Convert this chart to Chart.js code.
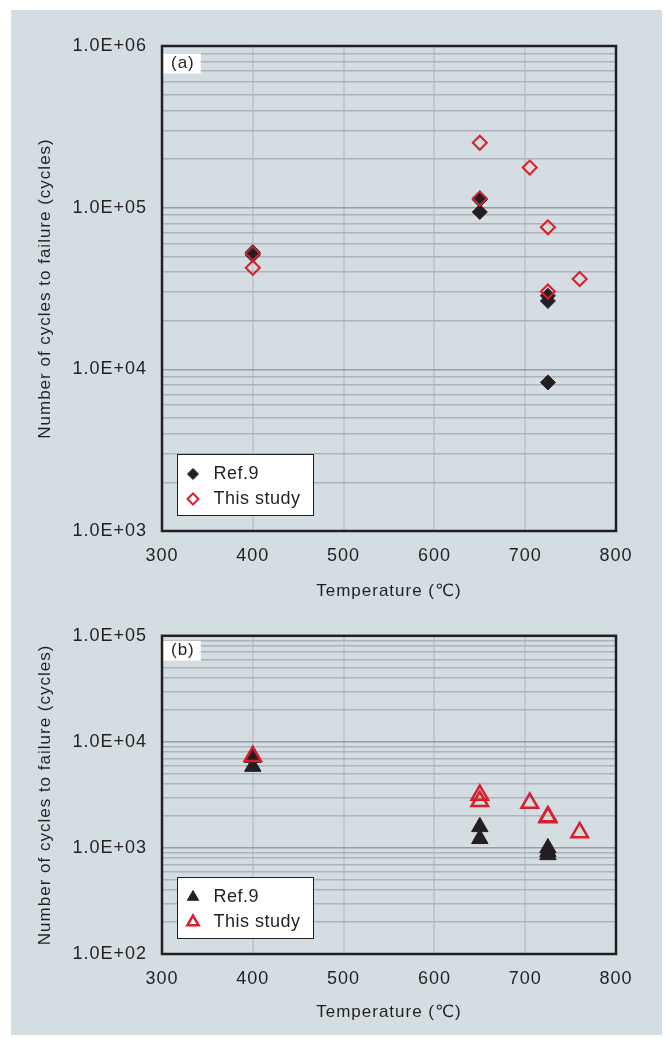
<!DOCTYPE html>
<html>
<head>
<meta charset="utf-8">
<script src="https://cdn.jsdelivr.net/npm/chart.js@4.4.1/dist/chart.umd.min.js"></script>
<style>
  html, body { margin: 0; padding: 0; background: #fff; }
  #panel { position: absolute; left: 11px; top: 10px; width: 651px; height: 1025px; background: #d4dde2; }
  #chartA { position: absolute; left: 0; top: 0; }
  #chartB { position: absolute; left: 0; top: 600px; }
</style>
</head>
<body>
<div id="panel">
  <canvas id="chartA" width="651" height="600"></canvas>
  <canvas id="chartB" width="651" height="425"></canvas>
</div>
<script>
// --- data ---
const seriesLabels = ["Ref.9", "This study"];
const xTicks = [300, 400, 500, 600, 700, 800];

// (a) number of cycles to failure
const tempRefA = [400, 400, 650, 650, 725, 725, 725];
const cyclesRefA = [53000, 51000, 112000, 94000, 28500, 26500, 8300];
const tempStudyA = [400, 400, 650, 650, 705, 725, 725, 760];
const cyclesStudyA = [52000, 42500, 252000, 114000, 177000, 75600, 30300, 36200];
const yRangeA = [1e3, 1e6];

// (b)
const tempRefB = [400, 400, 650, 650, 725, 725, 725];
const cyclesRefB = [7100, 5850, 1580, 1220, 1000, 920, 860];
const tempStudyB = [400, 650, 650, 705, 725, 725, 760];
const cyclesStudyB = [7300, 3150, 2750, 2650, 1980, 1940, 1400];
const yRangeB = [1e2, 1e5];

const ink = "#231f20";
const red = "#d71f2e";
const fontFamily = "'Liberation Sans', 'DejaVu Sans', Arial, sans-serif";

Chart.defaults.font.family = fontFamily;
Chart.defaults.color = ink;

function toPoints(xs, ys) {
  return xs.map((x, i) => ({ x: x, y: ys[i] }));
}

function isDecade(v) {
  const e = Math.log10(v);
  return Math.abs(e - Math.round(e)) < 1e-9;
}

function expLabel(v) {
  if (!isDecade(v)) return "";
  const e = Math.round(Math.log10(v));
  return "1.0E" + (e < 0 ? "-" : "+") + String(Math.abs(e)).padStart(2, "0");
}

function framePlugin(p) {
  return {
    id: "frame",
    beforeDraw(chart) {
      chart.ctx.letterSpacing = "1px";
    },
    beforeDatasetsDraw(chart) {
      const { ctx, chartArea: a } = chart;
      ctx.save();
      ctx.font = "17px " + fontFamily;
      const w = ctx.measureText(p.tag).width;
      ctx.fillStyle = "#fff";
      ctx.fillRect(a.left + 1, a.top + p.tagY - 10, w + 14, 20);
      ctx.fillStyle = ink;
      ctx.textBaseline = "middle";
      ctx.fillText(p.tag, a.left + 9, a.top + p.tagY);
      ctx.restore();
    },
    afterDatasetsDraw(chart) {
      const { ctx, chartArea: a } = chart;
      ctx.save();
      ctx.strokeStyle = ink;
      ctx.lineWidth = 2.5;
      ctx.strokeRect(a.left, a.top, a.right - a.left, a.bottom - a.top);

      // legend box inside plot
      const bx = a.left + 15.5, by = a.bottom - 76.5;
      ctx.fillStyle = "#fff";
      ctx.fillRect(bx, by, 136, 61);
      ctx.lineWidth = 1;
      ctx.strokeRect(bx, by, 136, 61);
      ctx.font = "18px " + fontFamily;
      ctx.letterSpacing = "0.5px";
      ctx.textBaseline = "middle";
      chart.data.datasets.forEach((ds, i) => {
        const yy = by + 19.5 + i * 25;
        ctx.fillStyle = ds.backgroundColor;
        ctx.strokeStyle = ds.borderColor;
        ctx.lineWidth = ds.borderWidth;
        Chart.helpers.drawPoint(ctx, {
          pointStyle: ds.pointStyle, radius: p.legendRadius,
          borderWidth: ds.borderWidth, rotation: 0
        }, bx + 15.5, yy);
        ctx.fillStyle = ink;
        ctx.fillText(ds.label, bx + 36, yy);
      });
      ctx.restore();
    }
  };
}

function makeChart(id, p) {
  return new Chart(document.getElementById(id), {
    type: "scatter",
    data: {
      datasets: [
        {
          label: seriesLabels[0],
          data: p.ref,
          order: 1,
          pointStyle: p.style,
          pointRadius: p.refRadius,
          backgroundColor: ink,
          borderColor: ink,
          borderWidth: 1
        },
        {
          label: seriesLabels[1],
          data: p.study,
          order: 0,
          pointStyle: p.style,
          pointRadius: p.studyRadius,
          backgroundColor: "rgba(0,0,0,0)",
          borderColor: red,
          borderWidth: p.studyBorder
        }
      ]
    },
    options: {
      responsive: false,
      animation: false,
      events: [],
      layout: { padding: { top: p.areaTop, right: 46, left: 0, bottom: 0 } },
      plugins: { legend: { display: false }, tooltip: { enabled: false } },
      scales: {
        x: {
          type: "linear",
          min: xTicks[0],
          max: xTicks[xTicks.length - 1],
          afterFit(scale) { scale.height = p.axisH; },
          afterBuildTicks(scale) { scale.ticks = xTicks.map(v => ({ value: v })); },
          ticks: { padding: 14, font: { size: 18 }, color: ink },
          grid: { drawTicks: false, color: "#c4c7cf", lineWidth: 2 },
          border: { display: false },
          title: {
            display: true,
            text: "Temperature (℃)",
            font: { size: 17 },
            color: ink,
            padding: { top: 0, bottom: p.xTitlePad }
          }
        },
        y: {
          type: "logarithmic",
          min: p.yRange[0],
          max: p.yRange[1],
          afterFit(scale) { scale.width = 151; },
          afterBuildTicks(scale) {
            // keep 1..9 x 10^n only
            scale.ticks = scale.ticks.filter(t => {
              const s = t.value / Math.pow(10, Math.floor(Math.log10(t.value) + 1e-9));
              return Math.abs(s - 1.5) > 1e-6;
            });
          },
          ticks: {
            autoSkip: false,
            padding: 15,
            font: { size: 18 },
            color: ink,
            callback: v => expLabel(v)
          },
          grid: {
            drawTicks: false,
            color: c => isDecade(c.tick.value) ? "#989ea7" : "#adb2ba",
            lineWidth: 1.5
          },
          border: { display: false },
          title: {
            display: true,
            text: "Number of cycles to failure (cycles)",
            font: { size: 17 },
            color: ink,
            padding: { top: 24.5, bottom: 0 }
          }
        }
      }
    },
    plugins: [framePlugin(p)]
  });
}

makeChart("chartA", {
  tag: "(a)", tagY: 17.5, areaTop: 36, axisH: 79, xTitlePad: 8,
  yRange: yRangeA,
  ref: toPoints(tempRefA, cyclesRefA),
  study: toPoints(tempStudyA, cyclesStudyA),
  style: "rectRot", refRadius: 7.5, studyRadius: 7, studyBorder: 2, legendRadius: 5.5
});

makeChart("chartB", {
  tag: "(b)", tagY: 15, areaTop: 23, axisH: 81, xTitlePad: 12,
  yRange: yRangeB,
  ref: toPoints(tempRefB, cyclesRefB),
  study: toPoints(tempStudyB, cyclesStudyB),
  style: "triangle", refRadius: 9.5, studyRadius: 9.5, studyBorder: 2.5, legendRadius: 6.5
});
</script>
</body>
</html>
